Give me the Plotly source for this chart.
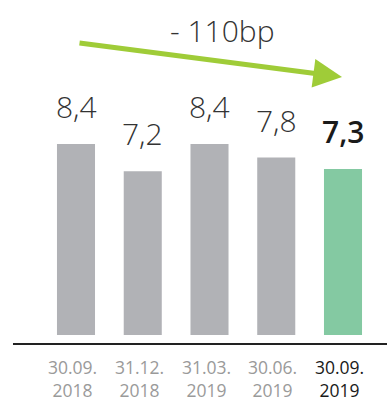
import plotly.graph_objects as go

categories = ["30.09.<br>2018", "31.12.<br>2018", "31.03.<br>2019", "30.06.<br>2019", "30.09.<br>2019"]
values = [8.4, 7.2, 8.4, 7.8, 7.3]
value_labels = ["8,4", "7,2", "8,4", "7,8", "7,3"]
bar_colors = ["#b1b2b6", "#b1b2b6", "#b1b2b6", "#b1b2b6", "#84c9a2"]
tick_colors = ["#9a9a9a", "#9a9a9a", "#9a9a9a", "#9a9a9a", "#1a1a1a"]
change_label = "- 110bp"

FONT = "Open Sans"
xs = list(range(len(categories)))

fig = go.Figure()
fig.add_trace(go.Bar(
    x=xs, y=values, width=0.57,
    marker=dict(color=bar_colors, line=dict(width=0)),
    hoverinfo="skip",
))

ann = []
for i, (v, lab) in enumerate(zip(values, value_labels)):
    last = i == len(values) - 1
    ann.append(dict(
        x=i, y=v, xref="x", yref="y", text=lab,
        showarrow=False, yanchor="bottom", yshift=15,
        font=dict(family=FONT, size=30, color="#1a1a1a" if last else "#333333",
                  weight=600 if last else 300),
    ))
for i, (c, col) in enumerate(zip(categories, tick_colors)):
    ann.append(dict(
        x=i - 0.05, y=-0.028, xref="x", yref="paper", text=c, showarrow=False,
        yanchor="top", font=dict(family=FONT, size=17.5, color=col), align="center",
        borderpad=0,
    ))
# trend arrow
ann.append(dict(
    x=3.985, y=11.34, xref="x", yref="y", ax=0.03, ay=12.84, axref="x", ayref="y",
    text="", showarrow=True, arrowhead=2, arrowsize=1.15, arrowwidth=5,
    arrowcolor="#9fcc38", standoff=0,
))
ann.append(dict(
    x=2.19, y=13.4, xref="x", yref="y", text=change_label, showarrow=False,
    font=dict(family=FONT, size=30, color="#333333", weight=300),
))

fig.update_layout(
    width=387, height=400,
    margin=dict(l=0, r=0, t=0, b=56),
    paper_bgcolor="white", plot_bgcolor="white",
    showlegend=False,
    xaxis=dict(range=[-1.1386, 4.6592], showticklabels=False, showgrid=False,
               zeroline=False, showline=False, fixedrange=True),
    yaxis=dict(range=[-0.396, 14.725], showticklabels=False, showgrid=False,
               zeroline=False, showline=False, fixedrange=True),
    annotations=ann,
    shapes=[dict(type="line", xref="x", yref="paper", x0=-0.944, x1=4.6592,
                 y0=0, y1=0, line=dict(color="#222222", width=2))],
)

fig.write_html("out.html", config={"displayModeBar": False},
               post_script="document.body.style.margin='0';")
